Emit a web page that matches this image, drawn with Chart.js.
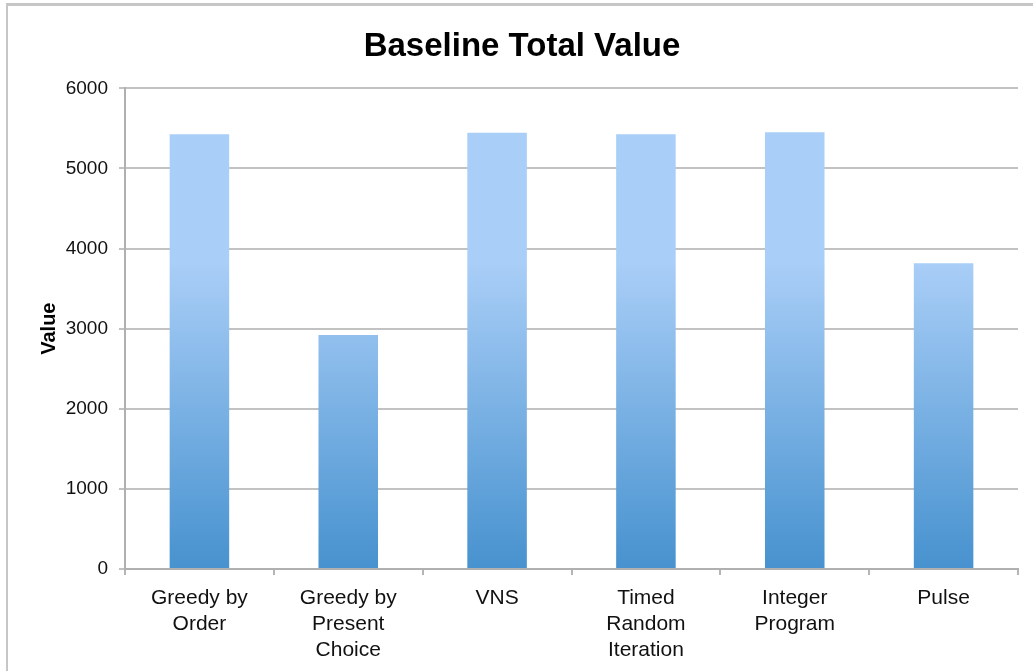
<!DOCTYPE html>
<html>
<head>
<meta charset="utf-8">
<title>Baseline Total Value</title>
<script src="https://cdn.jsdelivr.net/npm/chart.js@4/dist/chart.umd.min.js"></script>
<style>
  body { margin: 0; background: #fff; overflow: hidden; }
  #wrap { position: relative; width: 1033px; height: 671px; }
  #frame {
    position: absolute; left: 6px; top: 3px; width: 1040px; height: 680px;
    border-top: 3px solid #c6c6c6; border-left: 2px solid #c6c6c6;
    pointer-events: none;
  }
</style>
</head>
<body>
<div id="wrap">
  <canvas id="myChart" width="1033" height="671"></canvas>
  <div id="frame"></div>
</div>
<script>
'use strict';

// chart data
const categories = [
  ['Greedy by', 'Order'],
  ['Greedy by', 'Present', 'Choice'],
  'VNS',
  ['Timed', 'Random', 'Iteration'],
  ['Integer', 'Program'],
  'Pulse'
];
const totalValues = [5425, 2920, 5445, 5425, 5450, 3815];
const yMin = 0;
const yMax = 6000;
const yStep = 1000;

const fontFamily = '"Liberation Sans", Arial, Helvetica, sans-serif';

// each bar gets its own light-to-dark gradient
const barGradient = {
  id: 'barGradient',
  beforeDatasetsDraw(chart) {
    const ctx = chart.ctx;
    chart.getDatasetMeta(0).data.forEach(function (bar) {
      const g = ctx.createLinearGradient(0, bar.y, 0, bar.base);
      g.addColorStop(0, '#a9cef7');
      g.addColorStop(1, '#4792cf');
      bar.options.backgroundColor = g;
    });
  }
};

const ctx = document.getElementById('myChart').getContext('2d');

new Chart(ctx, {
  type: 'bar',
  data: {
    labels: categories,
    datasets: [{
      label: 'Value',
      data: totalValues,
      backgroundColor: '#7fb2e5',
      barPercentage: 0.4,
      categoryPercentage: 1.0
    }]
  },
  options: {
    responsive: false,
    animation: false,
    layout: { padding: { left: 26, right: 15, top: 0, bottom: 0 } },
    plugins: {
      legend: { display: false },
      tooltip: { enabled: false },
      title: {
        display: true,
        text: 'Baseline Total Value',
        color: '#000',
        font: { family: fontFamily, size: 33, weight: 'bold', lineHeight: 1.2 },
        padding: { top: 27, bottom: 21.7 }
      }
    },
    scales: {
      x: {
        afterFit(scale) { scale.height = 102; },
        grid: {
          display: true,
          drawOnChartArea: false,
          drawTicks: true,
          tickLength: 6,
          color: '#b5b5b5',
          lineWidth: 2
        },
        border: { display: true, color: '#b0b0b0', width: 2 },
        ticks: {
          color: '#111',
          padding: 10,
          maxRotation: 0,
          autoSkip: false,
          font: { family: fontFamily, size: 21, lineHeight: 1.24 }
        }
      },
      y: {
        min: yMin,
        max: yMax,
        afterFit(scale) { scale.width = 99; },
        grid: {
          color: '#c2c2c2',
          lineWidth: 2,
          tickLength: 6,
          drawTicks: true
        },
        border: { display: true, color: '#b0b0b0', width: 2 },
        ticks: {
          stepSize: yStep,
          color: '#111',
          padding: 11,
          font: { family: fontFamily, size: 19 },
          callback: function (value) { return String(value); }
        },
        title: {
          display: true,
          text: 'Value',
          color: '#000',
          font: { family: fontFamily, size: 20, weight: 'bold', lineHeight: 1.2 },
          padding: { top: 11, bottom: 0 }
        }
      }
    }
  },
  plugins: [barGradient]
});
</script>
</body>
</html>
